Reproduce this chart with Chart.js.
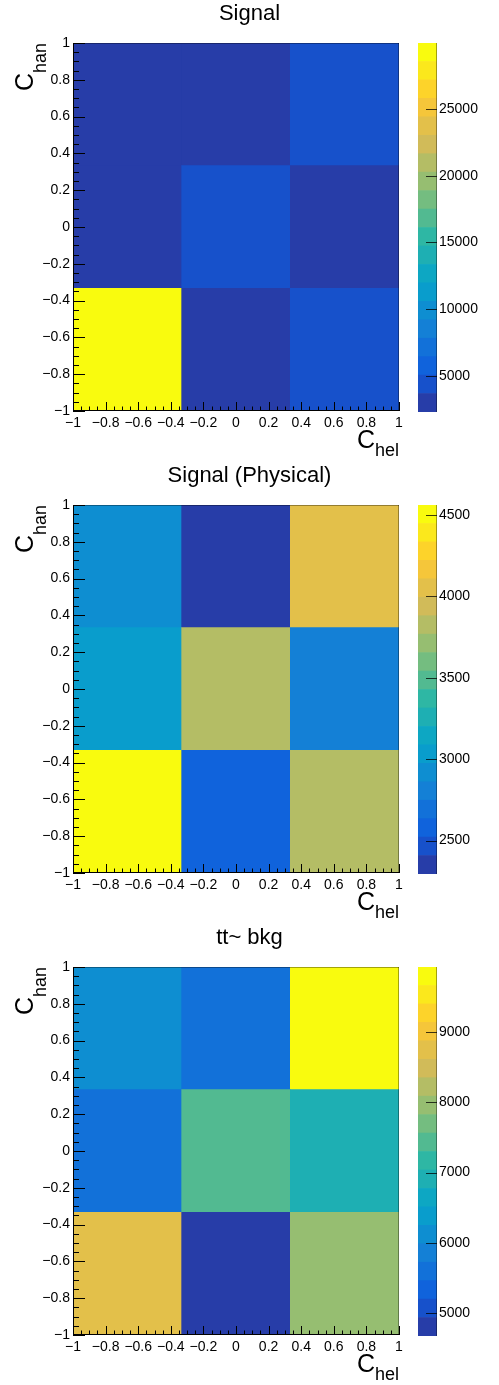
<!DOCTYPE html>
<html>
<head>
<meta charset="utf-8">
<script src="https://cdn.jsdelivr.net/npm/chart.js@4/dist/chart.umd.min.js"></script>
<style>
  html, body { margin: 0; padding: 0; background: #fff; }
  #page { position: relative; width: 499px; height: 1385px; overflow: hidden; }
  .panel { position: absolute; left: 0; width: 499px; height: 462px; }
  .panel canvas { position: absolute; top: 0; }
</style>
</head>
<body>
<div id="page"></div>
<script>
// Bin edges of the 3x3 histograms (C_hel along x, C_han along y)
const cHelEdges = [-1, -1 / 3, 1 / 3, 1];
const cHanEdges = [-1, -1 / 3, 1 / 3, 1];

// Axis tick labels shared by both coordinates
const axisTickValues = [-1, -0.8, -0.6, -0.4, -0.2, 0, 0.2, 0.4, 0.6, 0.8, 1];

// Cell contents: rows go from C_han = -1 upward, columns from C_hel = -1 rightward
const signalCounts = [
  [29950, 2280, 4300],
  [2700, 4500, 2600],
  [2900, 2500, 4400]
];
const signalPhysicalCounts = [
  [4562, 2580, 3830],
  [3030, 3820, 2800],
  [2920, 2295, 4050]
];
const ttbarCounts = [
  [8750, 4671, 7950],
  [5600, 7430, 6900],
  [6110, 5580, 9929]
];

// Colour-bar tick labels
const signalZTicks = [5000, 10000, 15000, 20000, 25000];
const signalPhysicalZTicks = [2500, 3000, 3500, 4000, 4500];
const ttbarZTicks = [5000, 6000, 7000, 8000, 9000];

const panelTitles = ['Signal', 'Signal (Physical)', 'tt~ bkg'];

// ---------------------------------------------------------------------------
const FONT = '"Liberation Sans", Arial, Helvetica, sans-serif';
const N_CONTOURS = 20;
const N_COLORS = 255;

// kBird colour palette
const birdStops = [0.0, 0.125, 0.25, 0.375, 0.5, 0.625, 0.75, 0.875, 1.0];
const birdR = [0.2082, 0.0592, 0.0780, 0.0232, 0.1802, 0.5301, 0.8186, 0.9956, 0.9764];
const birdG = [0.1664, 0.3599, 0.5041, 0.6419, 0.7178, 0.7492, 0.7328, 0.7862, 0.9832];
const birdB = [0.5293, 0.8684, 0.8385, 0.7914, 0.6425, 0.4662, 0.3499, 0.1968, 0.0539];

function birdColor(f) {
  let k = 1;
  while (k < birdStops.length - 1 && f > birdStops[k]) k++;
  const t = (f - birdStops[k - 1]) / (birdStops[k] - birdStops[k - 1]);
  const mix = (arr) => Math.round(255 * (arr[k - 1] + t * (arr[k] - arr[k - 1])));
  return `rgb(${mix(birdR)},${mix(birdG)},${mix(birdB)})`;
}

function contourColor(i) {
  const idx = Math.floor((i + 0.99) * N_COLORS / N_CONTOURS);
  return birdColor(Math.min(idx, N_COLORS - 1) / (N_COLORS - 1));
}

function contourIndex(v, zmin, zmax) {
  const i = Math.floor((v - zmin) / (zmax - zmin) * N_CONTOURS);
  return Math.max(0, Math.min(N_CONTOURS - 1, i));
}

function fmtTick(v) {
  const r = Math.round(v * 10) / 10;
  return (r < 0 ? '\u2212' : '') + String(Math.abs(r));
}

// Tick marks drawn inside the frame, plus frame lines
const frameTicks = {
  id: 'frameTicks',
  afterDatasetsDraw(chart) {
    const { ctx, chartArea: a, scales } = chart;
    const x = scales.x, y = scales.y;
    ctx.save();
    ctx.lineWidth = 1;
    // faint top/right frame edges
    ctx.strokeStyle = 'rgba(0,0,0,0.35)';
    ctx.beginPath();
    ctx.moveTo(a.left, a.top + 0.5); ctx.lineTo(a.right, a.top + 0.5);
    ctx.moveTo(a.right - 0.5, a.top); ctx.lineTo(a.right - 0.5, a.bottom);
    ctx.stroke();
    ctx.strokeStyle = '#000';
    ctx.beginPath();
    ctx.moveTo(a.left + 0.5, a.top); ctx.lineTo(a.left + 0.5, a.bottom);
    ctx.moveTo(a.left, a.bottom - 0.5); ctx.lineTo(a.right, a.bottom - 0.5);
    for (let k = 0; k <= 40; k++) {
      const v = -1 + k * 0.05;
      const major = k % 4 === 0;
      const px = Math.round(x.getPixelForValue(v)) + 0.5;
      ctx.moveTo(px, a.bottom);
      ctx.lineTo(px, a.bottom - (major ? 9 : 4.5));
      const py = Math.round(y.getPixelForValue(v)) + 0.5;
      ctx.moveTo(a.left, py);
      ctx.lineTo(a.left + (major ? 12 : 6), py);
    }
    ctx.stroke();
    ctx.restore();
  }
};

// Title and axis titles with subscripts
const rootTitles = {
  id: 'rootTitles',
  afterDraw(chart, args, opts) {
    const { ctx, chartArea: a } = chart;
    ctx.save();
    ctx.fillStyle = '#000';
    ctx.textBaseline = 'alphabetic';
    // main title
    ctx.font = `22px ${FONT}`;
    ctx.textAlign = 'center';
    ctx.fillText(opts.text, chart.width / 2, 20);

    const bigFont = `25px ${FONT}`, subFont = `18px ${FONT}`;
    // x axis title: C_hel, right-aligned with the axis end
    ctx.textAlign = 'right';
    ctx.font = subFont;
    const wHel = ctx.measureText('hel').width;
    ctx.fillText('hel', a.right, a.bottom + 45);
    ctx.font = bigFont;
    ctx.fillText('C', a.right - wHel, a.bottom + 37);

    // y axis title: C_han, rotated, ending at the axis top
    ctx.translate(33, a.top);
    ctx.rotate(-Math.PI / 2);
    ctx.font = subFont;
    const wHan = ctx.measureText('han').width;
    ctx.fillText('han', 0, 13);
    ctx.font = bigFont;
    ctx.fillText('C', -wHan, 0);
    ctx.restore();
  }
};

// Colour-bar tick marks and edge
const paletteTicks = {
  id: 'paletteTicks',
  afterDatasetsDraw(chart) {
    const { ctx, chartArea: a, scales: { z } } = chart;
    ctx.save();
    ctx.strokeStyle = 'rgba(0,0,0,0.75)';
    ctx.lineWidth = 1;
    ctx.beginPath();
    z.ticks.forEach((t) => {
      const py = Math.round(z.getPixelForValue(t.value)) + 0.5;
      ctx.moveTo(a.right, py);
      ctx.lineTo(a.right - 11, py);
    });
    ctx.stroke();
    ctx.strokeStyle = 'rgba(0,0,0,0.35)';
    ctx.beginPath();
    ctx.moveTo(a.right - 0.5, a.top); ctx.lineTo(a.right - 0.5, a.bottom);
    ctx.stroke();
    ctx.restore();
  }
};

function buildPanel(index, counts, zTicks, title) {
  const page = document.getElementById('page');
  const panel = document.createElement('div');
  panel.className = 'panel';
  panel.style.top = (index * 462) + 'px';
  page.appendChild(panel);

  const flat = counts.flat();
  const zmin = Math.min(...flat);
  const zmax = Math.max(...flat);

  // --- histogram cells ---
  const mainCanvas = document.createElement('canvas');
  mainCanvas.width = 499; mainCanvas.height = 462;
  mainCanvas.style.left = '0px';
  panel.appendChild(mainCanvas);

  const xCenters = cHelEdges.slice(0, -1).map((e, i) => (e + cHelEdges[i + 1]) / 2);
  const datasets = counts.map((row, r) => ({
    data: row.map((v, c) => ({ x: xCenters[c], y: [cHanEdges[r], cHanEdges[r + 1]] })),
    backgroundColor: row.map((v) => contourColor(contourIndex(v, zmin, zmax))),
    borderWidth: 0,
    grouped: false,
    barPercentage: 1,
    categoryPercentage: 1,
    xAxisID: 'xb',
    yAxisID: 'y'
  }));

  new Chart(mainCanvas, {
    type: 'bar',
    data: { datasets },
    options: {
      responsive: false,
      animation: false,
      devicePixelRatio: 1,
      layout: { padding: { left: 0, right: 100, top: 43, bottom: 0 } },
      plugins: { legend: { display: false }, tooltip: { enabled: false }, rootTitles: { text: title } },
      scales: {
        xb: {
          type: 'linear', min: -1, max: 1, display: false, offset: false,
          grid: { offset: false },
          afterBuildTicks: (s) => { s.ticks = cHelEdges.map((v) => ({ value: v })); }
        },
        x: {
          type: 'linear', position: 'bottom', min: -1, max: 1, offset: false,
          afterBuildTicks: (s) => { s.ticks = axisTickValues.map((v) => ({ value: v })); },
          afterFit: (s) => { s.height = 51; },
          grid: { display: false, drawTicks: false, offset: false },
          border: { display: false },
          ticks: {
            autoSkip: false, maxRotation: 0, minRotation: 0, padding: 4,
            color: '#000', font: { family: FONT, size: 14 },
            callback: (v) => fmtTick(v)
          }
        },
        y: {
          type: 'linear', position: 'left', min: -1, max: 1, offset: false,
          afterBuildTicks: (s) => { s.ticks = axisTickValues.map((v) => ({ value: v })); },
          afterFit: (s) => { s.width = 73; },
          grid: { display: false, drawTicks: false },
          border: { display: false },
          ticks: {
            autoSkip: false, padding: 3,
            color: '#000', font: { family: FONT, size: 14 },
            callback: (v) => fmtTick(v)
          }
        }
      }
    },
    plugins: [frameTicks, rootTitles]
  });

  // --- colour bar ---
  const palCanvas = document.createElement('canvas');
  palCanvas.width = 119; palCanvas.height = 462;
  palCanvas.style.left = '380px';
  panel.appendChild(palCanvas);

  const step = (zmax - zmin) / N_CONTOURS;
  const levels = Array.from({ length: N_CONTOURS }, (_, i) => i);
  const palDatasets = levels.map((i) => ({
    data: [[zmin + i * step, zmin + (i + 1) * step]],
    backgroundColor: contourColor(i),
    borderWidth: 0,
    grouped: false,
    barPercentage: 1,
    categoryPercentage: 1,
    yAxisID: 'z'
  }));

  new Chart(palCanvas, {
    type: 'bar',
    data: { labels: [''], datasets: palDatasets },
    options: {
      responsive: false,
      animation: false,
      devicePixelRatio: 1,
      layout: { padding: { left: 38, right: 0, top: 43, bottom: 0 } },
      plugins: { legend: { display: false }, tooltip: { enabled: false } },
      scales: {
        x: { display: false, afterFit: (s) => { s.height = 50; } },
        z: {
          type: 'linear', position: 'right', min: zmin, max: zmax,
          afterBuildTicks: (s) => { s.ticks = zTicks.map((v) => ({ value: v })); },
          afterFit: (s) => { s.width = 62; },
          grid: { display: false, drawTicks: false },
          border: { display: false },
          ticks: {
            padding: 2, color: '#000', font: { family: FONT, size: 14 },
            callback: (v) => String(v)
          }
        }
      }
    },
    plugins: [paletteTicks]
  });
}

buildPanel(0, signalCounts, signalZTicks, panelTitles[0]);
buildPanel(1, signalPhysicalCounts, signalPhysicalZTicks, panelTitles[1]);
buildPanel(2, ttbarCounts, ttbarZTicks, panelTitles[2]);
</script>
</body>
</html>
